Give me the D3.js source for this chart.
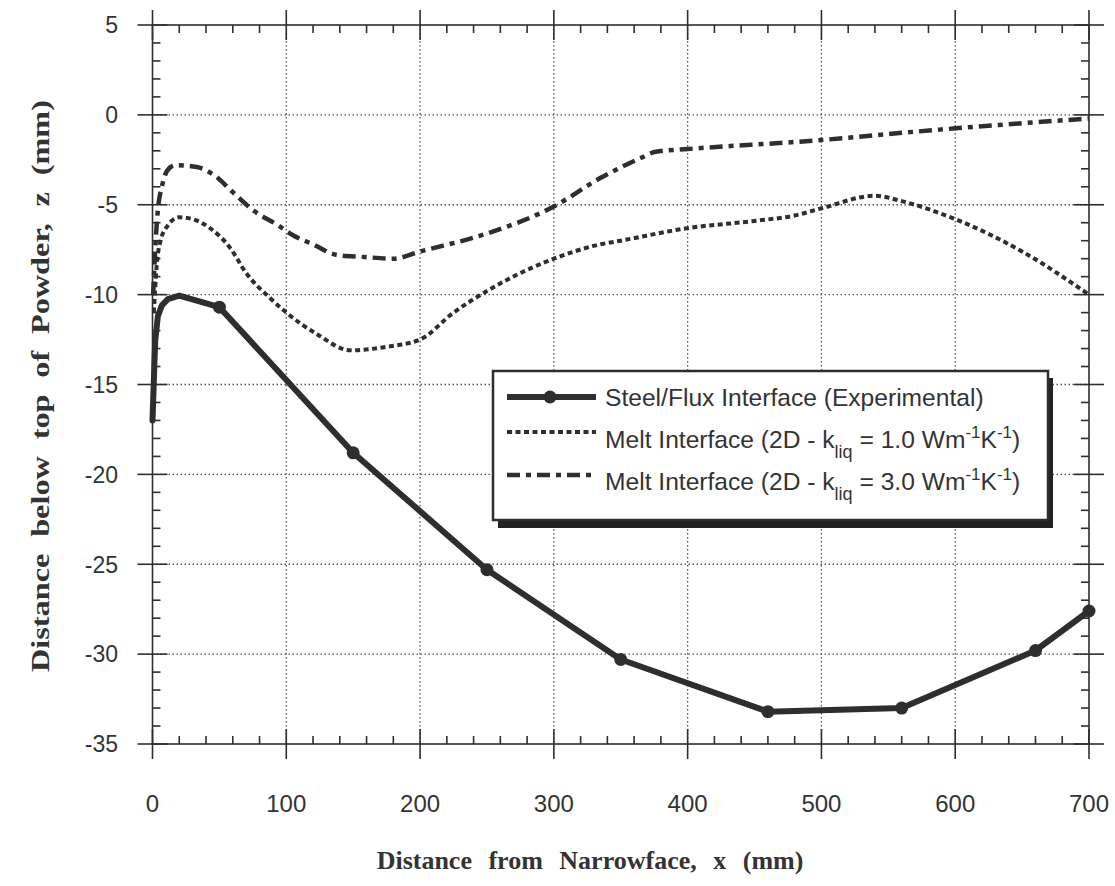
<!DOCTYPE html>
<html>
<head>
<meta charset="utf-8">
<script src="https://cdn.jsdelivr.net/npm/d3@7"></script>
<style>
  body { margin: 0; background: #fff; }
  svg { display: block; }
</style>
</head>
<body>
<svg id="chart" width="1115" height="886"></svg>
<script>
// Steel/Flux interface (experimental) - thick solid line, markers at measured points
const steelX = [0, 2, 4, 7, 11.5, 20, 50, 150, 250, 350, 460, 560, 660, 700];
const steelZ = [-17, -12.6, -11.2, -10.6, -10.25, -10.05, -10.7, -18.8, -25.3, -30.3, -33.2, -33.0, -29.8, -27.6];
const steelMarkX = [50, 150, 250, 350, 460, 560, 660, 700];

// Melt interface, k_liq = 1.0
const melt1X = [1, 3, 6, 11, 20, 30, 43, 58, 70, 88, 100, 123, 148, 175, 200, 225, 250, 300, 335, 350, 400, 450, 480, 500, 540, 560, 600, 650, 700];
const melt1Z = [-11, -8.5, -7, -6.2, -5.7, -5.8, -6.3, -7.4, -8.8, -10.2, -11, -12.2, -13.1, -12.9, -12.5, -11, -9.8, -8, -7.2, -7, -6.3, -5.9, -5.6, -5.2, -4.5, -4.8, -5.8, -7.6, -10];

// Melt interface, k_liq = 3.0
const melt3X = [0.5, 2, 4, 7, 11, 17, 33, 46, 60, 76, 93, 105, 120, 138, 157, 180, 200, 250, 300, 335, 365, 376, 400, 500, 560, 600, 700];
const melt3Z = [-10, -7.5, -5.3, -4, -3.1, -2.8, -2.9, -3.35, -4.3, -5.35, -6.1, -6.7, -7.2, -7.8, -7.9, -8.0, -7.6, -6.6, -5.1, -3.5, -2.4, -2.05, -1.9, -1.4, -1.0, -0.75, -0.2];

const xTicks = [0, 100, 200, 300, 400, 500, 600, 700];
const yTicks = [5, 0, -5, -10, -15, -20, -25, -30, -35];

const ink = '#2e2e2e';
const textInk = '#333';
const svg = d3.select('#chart');

const x = d3.scaleLinear().domain([0, 700]).range([152.5, 1089]);
const y = d3.scaleLinear().domain([-35, 5]).range([744, 25]);

// grid
const grid = svg.append('g')
    .attr('stroke', '#555')
    .attr('stroke-width', 1.3)
    .attr('stroke-dasharray', '1.5,2.5');
xTicks.slice(1, -1).forEach(v => {
    grid.append('line').attr('x1', x(v)).attr('x2', x(v)).attr('y1', y(5)).attr('y2', y(-35));
});
yTicks.slice(1, -1).forEach(v => {
    grid.append('line').attr('x1', x(0)).attr('x2', x(700)).attr('y1', y(v)).attr('y2', y(v));
});

// frame with ticks on all four sides
const frame = svg.append('g').attr('stroke', ink).attr('stroke-width', 1.6);
frame.append('rect')
    .attr('x', x(0)).attr('y', y(5))
    .attr('width', x(700) - x(0)).attr('height', y(-35) - y(5))
    .attr('fill', 'none');

const xMinor = d3.range(0, 701, 20).filter(v => v % 100 !== 0);
const yMinor = d3.range(-35, 6, 1).filter(v => v % 5 !== 0);

xTicks.forEach(v => {
    frame.append('line').attr('x1', x(v)).attr('x2', x(v)).attr('y1', y(-35) - 15).attr('y2', y(-35) + 15);
    frame.append('line').attr('x1', x(v)).attr('x2', x(v)).attr('y1', y(5) - 15).attr('y2', y(5) + 15);
});
xMinor.forEach(v => {
    frame.append('line').attr('x1', x(v)).attr('x2', x(v)).attr('y1', y(-35) - 8).attr('y2', y(-35));
    frame.append('line').attr('x1', x(v)).attr('x2', x(v)).attr('y1', y(5)).attr('y2', y(5) + 8);
});
yTicks.forEach(v => {
    frame.append('line').attr('x1', x(0) - 15).attr('x2', x(0) + 15).attr('y1', y(v)).attr('y2', y(v));
    frame.append('line').attr('x1', x(700) - 15).attr('x2', x(700) + 15).attr('y1', y(v)).attr('y2', y(v));
});
yMinor.forEach(v => {
    frame.append('line').attr('x1', x(0)).attr('x2', x(0) + 8).attr('y1', y(v)).attr('y2', y(v));
    frame.append('line').attr('x1', x(700) - 8).attr('x2', x(700)).attr('y1', y(v)).attr('y2', y(v));
});

// tick labels
svg.append('g').selectAll('text').data(yTicks).join('text')
    .attr('x', 118).attr('y', d => y(d)).attr('dy', '0.36em')
    .attr('text-anchor', 'end')
    .attr('font-family', 'Liberation Sans, Arial, sans-serif').attr('font-size', 23)
    .attr('fill', textInk)
    .text(d => d);
svg.append('g').selectAll('text').data(xTicks).join('text')
    .attr('x', d => x(d)).attr('y', 812)
    .attr('text-anchor', 'middle')
    .attr('font-family', 'Liberation Sans, Arial, sans-serif').attr('font-size', 24)
    .attr('fill', textInk)
    .text(d => d);

// axis titles
svg.append('text')
    .attr('transform', 'translate(49,386) rotate(-90)')
    .attr('text-anchor', 'middle')
    .attr('font-family', 'Liberation Serif, Times New Roman, serif')
    .attr('font-weight', 'bold').attr('font-size', 26)
    .attr('word-spacing', 7)
    .attr('textLength', 572).attr('lengthAdjust', 'spacingAndGlyphs')
    .attr('fill', textInk)
    .text('Distance below top of Powder, z (mm)');
svg.append('text')
    .attr('x', 590).attr('y', 869)
    .attr('text-anchor', 'middle')
    .attr('font-family', 'Liberation Serif, Times New Roman, serif')
    .attr('font-weight', 'bold').attr('font-size', 26)
    .attr('word-spacing', 10)
    .attr('fill', textInk)
    .text('Distance from Narrowface, x (mm)');

// series
const lineLinear = d3.line().x(d => x(d[0])).y(d => y(d[1]));
const lineSmooth = d3.line().x(d => x(d[0])).y(d => y(d[1])).curve(d3.curveMonotoneX);

svg.append('path')
    .datum(d3.zip(melt1X, melt1Z))
    .attr('d', lineSmooth)
    .attr('fill', 'none').attr('stroke', ink)
    .attr('stroke-width', 4).attr('stroke-dasharray', '5,3.5');

svg.append('path')
    .datum(d3.zip(melt3X, melt3Z))
    .attr('d', lineSmooth)
    .attr('fill', 'none').attr('stroke', ink)
    .attr('stroke-width', 4.5).attr('stroke-dasharray', '13,6,5,6');

svg.append('path')
    .datum(d3.zip(steelX, steelZ))
    .attr('d', lineLinear)
    .attr('fill', 'none').attr('stroke', ink)
    .attr('stroke-width', 6).attr('stroke-linejoin', 'round').attr('stroke-linecap', 'round');

const steelPts = d3.zip(steelX, steelZ).filter(d => steelMarkX.includes(d[0]));
svg.append('g').selectAll('circle').data(steelPts).join('circle')
    .attr('cx', d => x(d[0])).attr('cy', d => y(d[1])).attr('r', 6.5)
    .attr('fill', ink);

// legend
const lg = svg.append('g');
lg.append('rect').attr('x', 498).attr('y', 378).attr('width', 555).attr('height', 150).attr('fill', '#222');
lg.append('rect').attr('x', 493).attr('y', 371).attr('width', 555).attr('height', 149)
    .attr('fill', '#fff').attr('stroke', ink).attr('stroke-width', 2.5);

const rows = [
    {y: 397, dash: null, w: 6},
    {y: 432, dash: '5,3.5', w: 4},
    {y: 475, dash: '13,6,5,6', w: 4.5}
];
rows.forEach((r, i) => {
    const l = lg.append('line').attr('x1', 507).attr('x2', 596).attr('y1', r.y).attr('y2', r.y)
        .attr('stroke', ink).attr('stroke-width', r.w);
    if (r.dash) l.attr('stroke-dasharray', r.dash);
    if (i === 0) lg.append('circle').attr('cx', 550).attr('cy', r.y).attr('r', 6.5).attr('fill', ink);
});

const legFont = 'Liberation Sans, Arial, sans-serif';
lg.append('text').attr('x', 605).attr('y', 406)
    .attr('font-family', legFont).attr('font-size', 24.6).attr('fill', textInk)
    .text('Steel/Flux Interface (Experimental)');

function meltLabel(yy, k) {
    const t = lg.append('text').attr('x', 605).attr('y', yy)
        .attr('font-family', legFont).attr('font-size', 24.6).attr('fill', textInk);
    t.append('tspan').text('Melt Interface (2D - k');
    t.append('tspan').attr('font-size', 18).attr('dy', 10).text('liq');
    t.append('tspan').attr('dy', -10).text(' = ' + k + ' Wm');
    t.append('tspan').attr('font-size', 17).attr('dy', -10).text('-1');
    t.append('tspan').attr('dy', 10).text('K');
    t.append('tspan').attr('font-size', 17).attr('dy', -10).text('-1');
    t.append('tspan').attr('dy', 10).text(')');
}
meltLabel(448, '1.0');
meltLabel(490, '3.0');
</script>
</body>
</html>
